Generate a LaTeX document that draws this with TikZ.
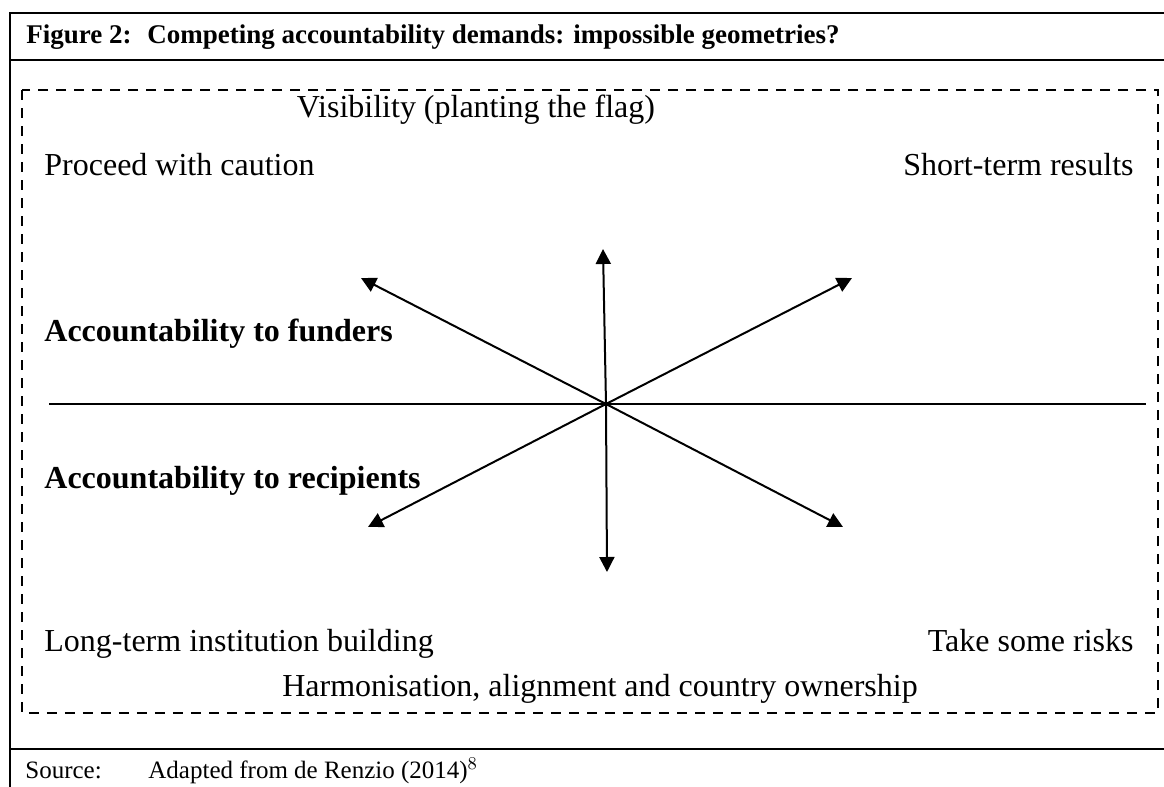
\documentclass[tikz,border=0pt]{standalone}
\usepackage{fontspec}
\setmainfont{Liberation Serif}
\usepackage{amsmath}
\usepackage{tikz}
\usetikzlibrary{arrows.meta}

\begin{document}
\begin{tikzpicture}[x=0.5pt, y=-0.5pt]
    % Styles
    \tikzstyle{frame} = [line width=1.2pt]
    \tikzstyle{box} = [dashed, line width=1.3pt, dash pattern=on 5pt off 4pt]
    \tikzstyle{axis} = [line width=0.8pt]
    \tikzstyle{arrow} = [line width=1pt, -{Triangle[length=7.5pt, width=7.5pt]}]
    \tikzstyle{label} = [inner sep=0pt, font=\fontsize{16}{19}\selectfont]
    \tikzstyle{strong} = [label, font=\fontsize{16}{19}\selectfont\bfseries]
    \tikzstyle{small} = [inner sep=0pt, font=\fontsize{12.5}{15}\selectfont]
    \tikzstyle{heading} = [inner sep=0pt, font=\fontsize{13.5}{16}\selectfont\bfseries]

    \useasboundingbox (0,0) rectangle (1164,787);

    % Frame
    \draw[frame] (1164,13) -- (10,13) -- (10,787);
    \draw[frame] (10,60) -- (1164,60);
    \draw[frame] (10,749) -- (1164,749);
    \draw[box] (22,90) rectangle (1158,713);

    % Title and source
    \node[heading, anchor=base west] (fig) at (26,43) {Figure 2:};
    \node[heading, anchor=base west] (title) at (147,43)
        {Competing accountability demands: impossible geometries?};
    \node[small, anchor=base west] (src) at (25,778) {Source:};
    \node[small, anchor=base west] (srctext) at (148,778) {Adapted from de Renzio (2014)$^{8}$};

    % Nodes
    \node[label, anchor=base] (vis) at (476,117) {Visibility (planting the flag)};
    \node[label, anchor=base west] (caution) at (44,175) {Proceed with caution};
    \node[label, anchor=base east] (short) at (1134,175) {Short-term results};
    \node[strong, anchor=base west] (funders) at (44,341) {Accountability to funders};
    \node[strong, anchor=base west] (recip) at (44,488) {Accountability to recipients};
    \node[label, anchor=base west] (long) at (44,651) {Long-term institution building};
    \node[label, anchor=base east] (risks) at (1134,651) {Take some risks};
    \node[label, anchor=base] (harm) at (600,696) {Harmonisation, alignment and country ownership};

    % Axes
    \coordinate (C) at (606,404);
    \coordinate (W) at (49,404);
    \coordinate (E) at (1146,404);
    \coordinate (N) at (603,249);
    \coordinate (S) at (607,572);
    \coordinate (NW) at (361,278);
    \coordinate (NE) at (852,278);
    \coordinate (SW) at (368,527);
    \coordinate (SE) at (843,527);

    % Arrows
    \draw[axis] (W) -- (E);
    \draw[arrow] (C) -- (N);
    \draw[arrow] (C) -- (S);
    \draw[arrow] (C) -- (NW);
    \draw[arrow] (C) -- (NE);
    \draw[arrow] (C) -- (SW);
    \draw[arrow] (C) -- (SE);
\end{tikzpicture}
\end{document}
